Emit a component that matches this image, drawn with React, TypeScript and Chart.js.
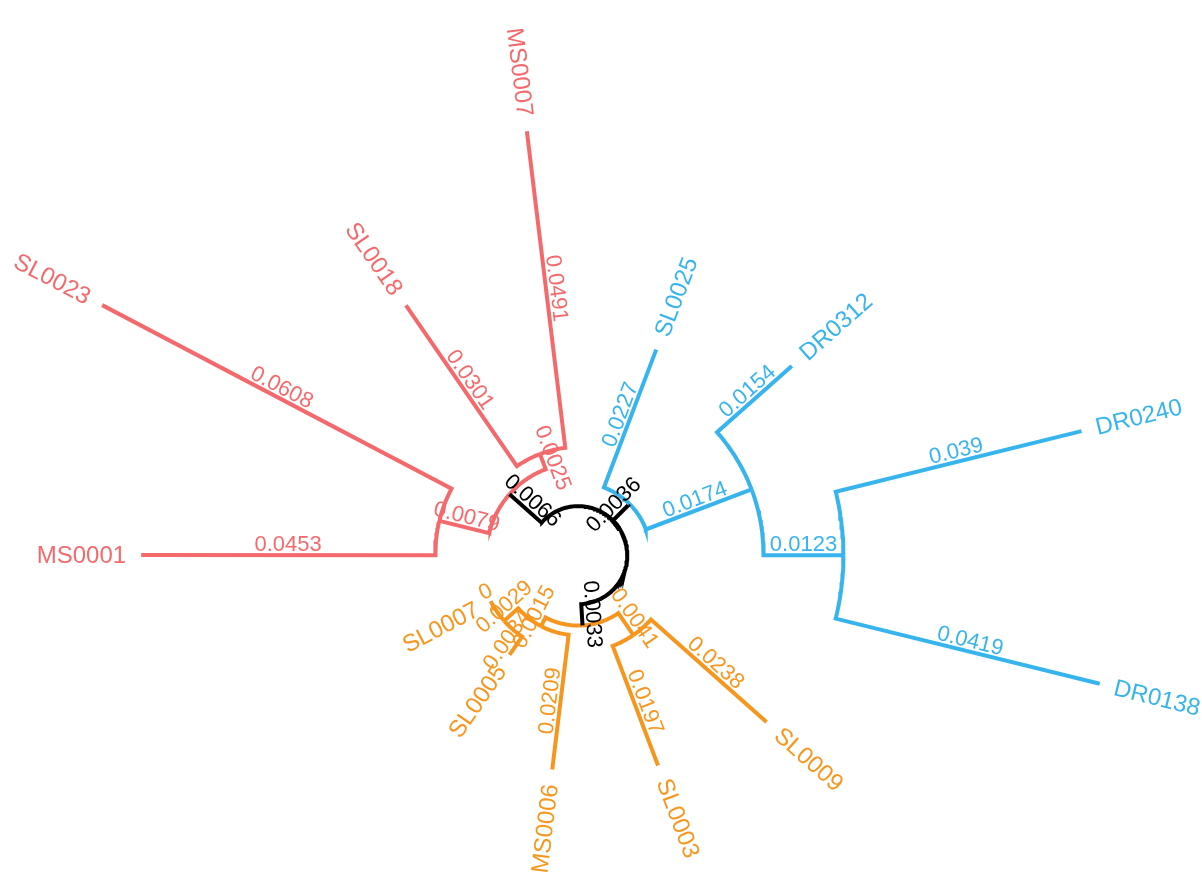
import React, { useEffect, useRef } from "react";
import { Chart, registerables } from "chart.js";

Chart.register(...registerables);

// ---- Tree data ----
// Tips first (in angular order, counter-clockwise), then internal nodes.
const nodeNames = [
  "SL0007", "SL0005", "MS0006", "SL0003", "SL0009", "DR0138", "DR0240",
  "DR0312", "SL0025", "MS0007", "SL0018", "SL0023", "MS0001",
  "root", "R1", "R_L", "R_R", "B1", "B2", "B3", "O1", "O3", "O4", "O2",
];
const nodeParents = [
  22, 22, 21, 23, 23, 19, 19,
  18, 17, 16, 16, 15, 15,
  -1, 13, 14, 14, 13, 17, 18, 13, 20, 21, 20,
];
const branchLengths = [
  0, 0.0034, 0.0209, 0.0197, 0.0238, 0.0419, 0.039,
  0.0154, 0.0227, 0.0491, 0.0301, 0.0608, 0.0453,
  0, 0.0066, 0.0079, 0.0025, 0.0036, 0.0174, 0.0123, 0.0033, 0.0015, 0.0029, 0.0041,
];
// colour group of the branch leading to each node (0 = root branches)
const branchGroups = [
  3, 3, 3, 3, 3, 2, 2,
  2, 2, 1, 1, 1, 1,
  0, 0, 1, 1, 0, 2, 2, 0, 3, 3, 3,
];
const groupColors = ["#000000", "#F46A6C", "#37B4EE", "#F7961F"];
const tipCount = 13;

// ---- layout constants ----
const ROOT_OFFSET = 0.00755; // radial offset of the root in branch-length units
const ANGLE_STEP = 360 / tipCount;
const START_ANGLE = -13.85 - 5 * ANGLE_STEP; // degrees, first tip
const X_MIN = -0.0891;
const X_MAX = 0.0961;
const Y_MIN = -0.0508;
const Y_MAX = 0.0855;

function buildLayout() {
  const n = nodeNames.length;
  const children: number[][] = Array.from({ length: n }, () => []);
  let root = 0;
  nodeParents.forEach((p, i) => {
    if (p < 0) root = i;
    else children[p].push(i);
  });
  const depth = new Array(n).fill(0);
  const angle = new Array(n).fill(0);
  const setDepth = (i: number, d: number) => {
    depth[i] = d;
    children[i].forEach((c) => setDepth(c, d + branchLengths[c]));
  };
  setDepth(root, ROOT_OFFSET);
  const setAngle = (i: number): number => {
    if (children[i].length === 0) {
      angle[i] = START_ANGLE + ANGLE_STEP * i;
    } else {
      const a = children[i].map(setAngle);
      angle[i] = a.reduce((s, v) => s + v, 0) / a.length;
    }
    return angle[i];
  };
  setAngle(root);
  return { depth, angle, root };
}

const toXY = (r: number, deg: number) => {
  const t = (deg * Math.PI) / 180;
  return { x: r * Math.cos(t), y: r * Math.sin(t) };
};

export default function App() {
  const canvasRef = useRef<HTMLCanvasElement | null>(null);

  useEffect(() => {
    const canvas = canvasRef.current;
    if (!canvas) return;
    const { depth, angle } = buildLayout();

    const datasets: any[] = [];
    nodeParents.forEach((p, c) => {
      if (p < 0) return;
      const pts: { x: number; y: number }[] = [];
      const a0 = angle[p];
      const a1 = angle[c];
      const steps = Math.max(1, Math.ceil(Math.abs(a1 - a0) / 1));
      for (let k = 0; k <= steps; k++) {
        pts.push(toXY(depth[p], a0 + ((a1 - a0) * k) / steps));
      }
      pts.push(toXY(depth[c], a1));
      datasets.push({
        data: pts,
        showLine: true,
        borderColor: groupColors[branchGroups[c]],
        borderWidth: 4,
        borderJoinStyle: "miter",
        borderCapStyle: "butt",
        pointRadius: 0,
        fill: false,
        tension: 0,
      });
    });

    const labelPlugin = {
      id: "treeLabels",
      afterDatasetsDraw(chart: any) {
        const ctx = chart.ctx as CanvasRenderingContext2D;
        const xs = chart.scales.x;
        const ys = chart.scales.y;
        const px = (pt: { x: number; y: number }) => ({
          x: xs.getPixelForValue(pt.x),
          y: ys.getPixelForValue(pt.y),
        });
        ctx.save();
        // branch length labels
        nodeParents.forEach((p, c) => {
          if (p < 0) return;
          const th = angle[c];
          const rad = (th * Math.PI) / 180;
          const mid = px(toXY((depth[p] + depth[c]) / 2, th));
          let rot = -rad;
          if (Math.cos(rad) < 0) rot += Math.PI;
          ctx.save();
          ctx.translate(mid.x, mid.y);
          ctx.rotate(rot);
          ctx.font = '22px "Liberation Sans", Arial, sans-serif';
          ctx.fillStyle = groupColors[branchGroups[c]];
          ctx.textAlign = "center";
          ctx.textBaseline = "alphabetic";
          ctx.fillText(String(branchLengths[c]), 0, -4);
          ctx.restore();
        });
        // tip labels
        for (let i = 0; i < tipCount; i++) {
          const th = angle[i];
          const rad = (th * Math.PI) / 180;
          const tip = px(toXY(depth[i], th));
          const gap = 15;
          const ax = tip.x + gap * Math.cos(rad);
          const ay = tip.y - gap * Math.sin(rad);
          const flip = Math.cos(rad) < 0;
          ctx.save();
          ctx.translate(ax, ay);
          ctx.rotate(flip ? -rad + Math.PI : -rad);
          ctx.font = '24px "Liberation Sans", Arial, sans-serif';
          ctx.fillStyle = groupColors[branchGroups[i]];
          ctx.textAlign = flip ? "right" : "left";
          ctx.textBaseline = "middle";
          ctx.fillText(nodeNames[i], 0, 1);
          ctx.restore();
        }
        ctx.restore();
      },
    };

    const chart = new Chart(canvas, {
      type: "scatter",
      data: { datasets },
      options: {
        animation: false,
        responsive: false,
        devicePixelRatio: 1,
        events: [],
        layout: { padding: 0 },
        plugins: { legend: { display: false }, tooltip: { enabled: false } },
        scales: {
          x: { type: "linear", min: X_MIN, max: X_MAX, display: false },
          y: { type: "linear", min: Y_MIN, max: Y_MAX, display: false },
        },
      },
      plugins: [labelPlugin],
    } as any);

    return () => chart.destroy();
  }, []);

  return (
    <div style={{ position: "absolute", left: 0, top: 0, width: 1202, height: 885, background: "#fff" }}>
      <canvas ref={canvasRef} width={1202} height={885} />
    </div>
  );
}
